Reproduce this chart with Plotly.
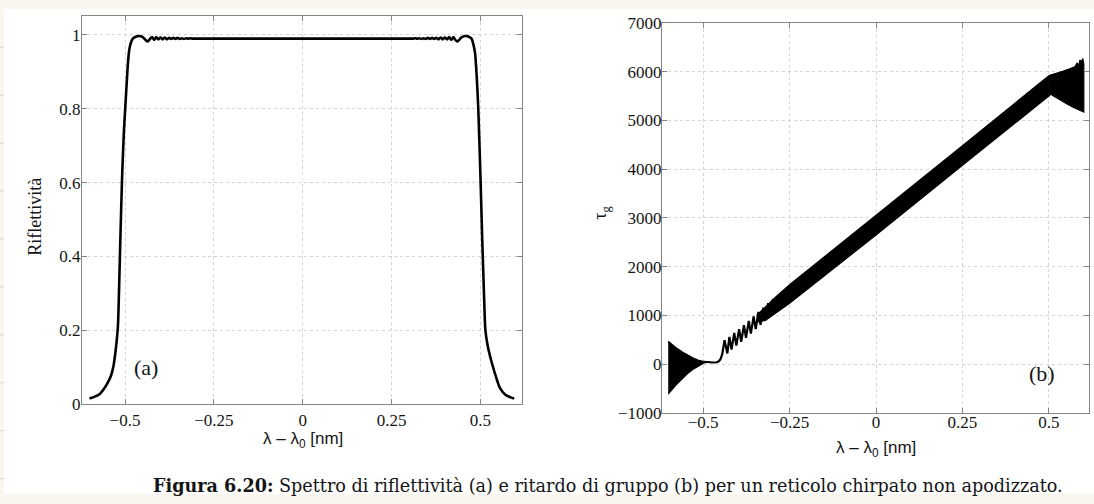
import plotly.graph_objects as go

# ---------------- data ----------------
# (a) reflectivity spectrum
refl_x = [-0.600, -0.585, -0.570, -0.560, -0.550, -0.540, -0.533, -0.527, -0.520, -0.517,
          -0.513, -0.508, -0.503, -0.497, -0.492, -0.488, -0.483, -0.478, -0.470, -0.460,
          -0.450, -0.442, -0.436, -0.430, -0.424, -0.418, -0.412, -0.406, -0.400, -0.394,
          -0.388, -0.382, -0.376, -0.370, -0.364, -0.358, -0.352, -0.346, -0.340, -0.334,
          -0.328, -0.322, -0.316, -0.310, -0.300, 0.000, 0.300, 0.310, 0.316, 0.322,
          0.328, 0.334, 0.340, 0.346, 0.352, 0.358, 0.364, 0.370, 0.376, 0.382,
          0.388, 0.394, 0.400, 0.406, 0.412, 0.418, 0.424, 0.430, 0.436, 0.445,
          0.456, 0.466, 0.475, 0.480, 0.485, 0.490, 0.494, 0.500, 0.505, 0.510,
          0.514, 0.520, 0.527, 0.534, 0.545, 0.554, 0.570, 0.585, 0.595]
refl_y = [0.015, 0.020, 0.028, 0.040, 0.055, 0.075, 0.100, 0.140, 0.210, 0.300,
          0.450, 0.620, 0.740, 0.840, 0.920, 0.960, 0.980, 0.990, 0.995, 0.997,
          0.994, 0.986, 0.982, 0.989, 0.994, 0.987, 0.994, 0.988, 0.993, 0.988,
          0.993, 0.988, 0.992, 0.989, 0.992, 0.989, 0.992, 0.989, 0.991, 0.989,
          0.991, 0.990, 0.991, 0.990, 0.990, 0.990, 0.990, 0.990, 0.991, 0.990,
          0.991, 0.989, 0.991, 0.989, 0.992, 0.989, 0.992, 0.989, 0.992, 0.988,
          0.993, 0.988, 0.993, 0.988, 0.994, 0.987, 0.994, 0.986, 0.982, 0.992,
          0.997, 0.996, 0.990, 0.975, 0.950, 0.880, 0.800, 0.620, 0.450, 0.300,
          0.200, 0.160, 0.130, 0.105, 0.070, 0.045, 0.025, 0.018, 0.015]

# (b) group delay: dense oscillation band at the short-wavelength end
tau_left_x = [-0.601, -0.590, -0.575, -0.560, -0.545, -0.530, -0.515, -0.500, -0.490]
tau_left_up = [470, 400, 320, 250, 185, 130, 85, 55, 45]
tau_left_lo = [-615, -520, -400, -290, -190, -110, -40, 15, 40]

# (b) group delay: thin curve and discrete ripples
tau_line_x = [-0.500, -0.490, -0.480, -0.470, -0.460, -0.455, -0.450, -0.445, -0.438, -0.430,
              -0.424, -0.418, -0.410, -0.404, -0.396, -0.390, -0.382, -0.376, -0.368, -0.362,
              -0.354, -0.348, -0.340, -0.334, -0.326, -0.320, -0.312, -0.306, -0.298]
tau_line_y = [50, 40, 35, 35, 40, 60, 100, 200, 490, 220,
              560, 300, 640, 380, 720, 460, 800, 540, 890, 630,
              980, 720, 1070, 810, 1160, 900, 1250, 1000, 1340]

# (b) group delay: main linear band (upper / lower envelopes)
tau_band_x = [-0.345, -0.320, -0.290, -0.250, 0.000, 0.250, 0.500]
tau_band_up = [1000, 1170, 1380, 1630, 3050, 4480, 5920]
tau_band_lo = [860, 900, 1060, 1250, 2650, 4080, 5500]

# (b) group delay: oscillation band at the long-wavelength end
tau_right_up_x = [0.500, 0.520, 0.540, 0.560, 0.575, 0.582, 0.586, 0.590, 0.594, 0.598, 0.601]
tau_right_up = [5920, 5960, 6010, 6060, 6100, 6180, 6120, 6240, 6200, 6270, 6150]
tau_right_lo_x = [0.500, 0.505, 0.530, 0.550, 0.570, 0.590, 0.601]
tau_right_lo = [5500, 5540, 5440, 5350, 5270, 5200, 5170]

# ticks
refl_xticks = [-0.5, -0.25, 0, 0.25, 0.5]
refl_xtext = ["\u22120.5", "\u22120.25", "0", "0.25", "0.5"]
refl_yticks = [0, 0.2, 0.4, 0.6, 0.8, 1]
refl_ytext = ["0", "0.2", "0.4", "0.6", "0.8", "1"]
tau_yticks = [-1000, 0, 1000, 2000, 3000, 4000, 5000, 6000, 7000]
tau_ytext = ["\u22121000", "0", "1000", "2000", "3000", "4000", "5000", "6000", "7000"]

# ---------------- figure ----------------
W, H = 1094, 504
# the page is photographed with a small vertical squeeze/offset: map target pixel rows
def py(y_target):
    return 1 - (1.0352 * y_target - 7.76) / H

fig = go.Figure()

fig.add_trace(go.Scatter(x=refl_x, y=refl_y, mode="lines",
                         line=dict(color="black", width=2.6, shape="spline", smoothing=0.6),
                         xaxis="x", yaxis="y", hoverinfo="skip"))

def band(xs_up, ups, xs_lo, los):
    return go.Scatter(x=list(xs_up) + list(xs_lo)[::-1], y=list(ups) + list(los)[::-1],
                      mode="lines", fill="toself", fillcolor="black",
                      line=dict(color="black", width=1.2),
                      xaxis="x2", yaxis="y2", hoverinfo="skip")

fig.add_trace(band(tau_left_x, tau_left_up, tau_left_x, tau_left_lo))
fig.add_trace(band(tau_band_x, tau_band_up, tau_band_x, tau_band_lo))
fig.add_trace(band(tau_right_up_x, tau_right_up, tau_right_lo_x, tau_right_lo))
fig.add_trace(go.Scatter(x=tau_line_x, y=tau_line_y, mode="lines",
                         line=dict(color="black", width=2.2),
                         xaxis="x2", yaxis="y2", hoverinfo="skip"))

serif = "Liberation Serif, Times New Roman, serif"
sans = "Liberation Sans, Arial, sans-serif"
frame = "#858585"
ink = "#141414"

axis_common = dict(showline=True, linecolor=frame, linewidth=1, mirror="allticks",
                   ticks="inside", ticklen=5, tickcolor=frame,
                   showgrid=True, gridcolor="#d4d4d4", griddash="dot", gridwidth=1,
                   zeroline=False, tickfont=dict(family=serif, size=17, color=ink))

fig.update_layout(
    width=W, height=H, autosize=False,
    margin=dict(l=0, r=0, t=0, b=0),
    paper_bgcolor="#f9f6ef", plot_bgcolor="white",
    showlegend=False,
    xaxis=dict(domain=[82 / W, 522 / W], range=[-0.621, 0.617], ticklabelstandoff=1,
               tickvals=refl_xticks, ticktext=refl_xtext, anchor="y", **axis_common),
    yaxis=dict(domain=[py(404), py(15)], range=[0, 1.05], ticklabelstandoff=-3,
               tickvals=refl_yticks, ticktext=refl_ytext, anchor="x", **axis_common),
    xaxis2=dict(domain=[662 / W, 1089 / W], range=[-0.619, 0.616], ticklabelstandoff=-6,
                tickvals=refl_xticks, ticktext=refl_xtext, anchor="y2", **axis_common),
    yaxis2=dict(domain=[py(413), py(21.5)], range=[-1000, 7000], ticklabelstandoff=-4,
                tickvals=tau_yticks, ticktext=tau_ytext, anchor="x2", **axis_common),
)

# page decoration: faint grid in the cream left border, white panel
shapes = []
for k in range(10):
    yp = py(46 + 48.1 * k)
    shapes.append(dict(type="line", xref="paper", yref="paper", x0=0, x1=4 / W,
                       y0=yp, y1=yp, line=dict(color="#ddd7cb", width=1), layer="below"))
x0 = 4 / W
shapes.append(dict(type="rect", xref="paper", yref="paper", layer="below",
                   x0=x0, x1=1, y0=0, y1=1, fillcolor="white", line=dict(width=0)))
fig.update_layout(shapes=shapes)

ann = [
    dict(text="Riflettività", x=35 / W, y=py(216), textangle=-90,
         font=dict(family=serif, size=18, color=ink)),
    dict(text="τ<sub>g</sub>", x=602 / W, y=py(212), textangle=-90,
         font=dict(family=serif, size=18, color=ink)),
    dict(text="λ – λ<sub>0</sub> [nm]", x=303 / W, y=py(440),
         font=dict(family=sans, size=17, color=ink)),
    dict(text="λ – λ<sub>0</sub> [nm]", x=876 / W, y=py(449),
         font=dict(family=sans, size=17, color=ink)),
    dict(text="<b>Figura 6.20:</b> Spettro di riflettività (a) e ritardo di gruppo (b) per un reticolo chirpato non apodizzato.",
         x=608 / W, y=py(486), font=dict(family="DejaVu Serif, serif", size=17.6, color=ink)),
]
for a in ann:
    a.update(xref="paper", yref="paper", showarrow=False, xanchor="center", yanchor="middle")
fig.update_layout(annotations=ann)

fig.add_annotation(text="(a)", x=-0.44, y=0.10, xref="x", yref="y", showarrow=False,
                   font=dict(family=serif, size=22, color=ink))
fig.add_annotation(text="(b)", x=0.48, y=-200, xref="x2", yref="y2", showarrow=False,
                   font=dict(family=serif, size=22, color=ink))

page_bg = ("linear-gradient(to right, #f9f6ef 0px, #f9f6ef 4px, rgba(0,0,0,0) 4px),"
           "linear-gradient(to bottom, #f9f6ef 0px, #f9f6ef 4px, #ffffff 4px)")
fig.write_html("out.html",
               config={"displayModeBar": False, "responsive": False},
               post_script="document.documentElement.style.margin='0';"
                           "document.body.style.margin='0';document.body.style.padding='0';"
                           "document.body.style.overflow='hidden';"
                           "document.documentElement.style.overflow='hidden';"
                           f"document.documentElement.style.background='{page_bg}';"
                           f"document.body.style.background='{page_bg}';")
